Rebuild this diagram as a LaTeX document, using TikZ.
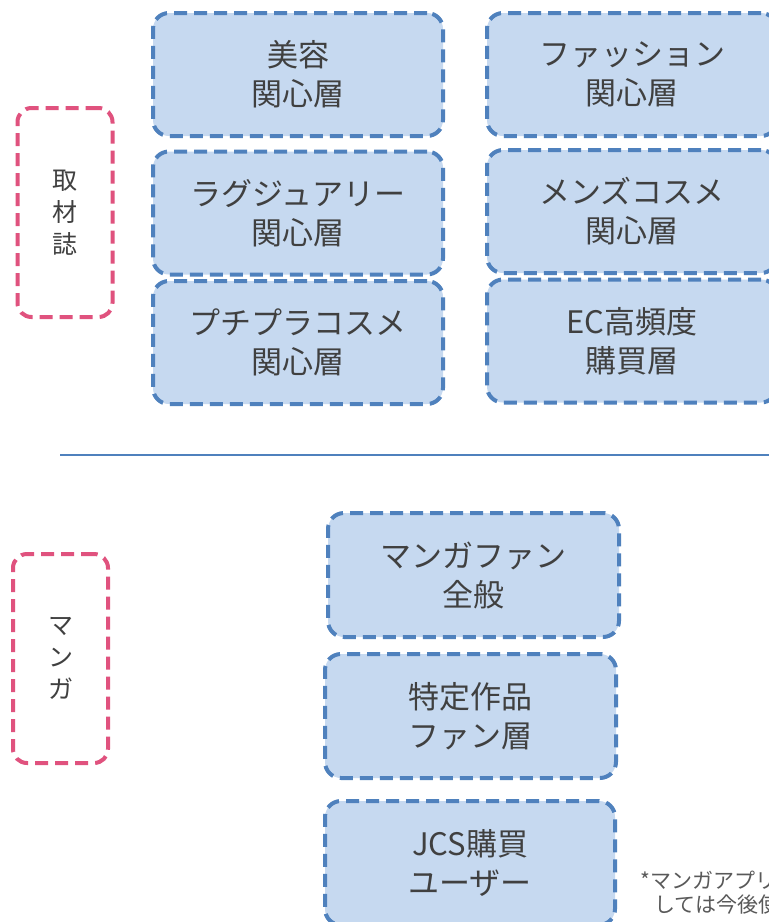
\documentclass[tikz,border=0pt]{standalone}
\usepackage{fontspec}
\setmainfont{Noto Sans CJK JP}
\newfontfamily\jpfont{Noto Sans CJK JP}
\definecolor{boxblue}{HTML}{4F81BD}
\definecolor{boxfill}{HTML}{C6D9F0}
\definecolor{pinkline}{HTML}{E0527E}
\definecolor{txtgray}{HTML}{404040}
\definecolor{notegray}{HTML}{595959}
\begin{document}
\begin{tikzpicture}[x=1pt,y=-1pt,
  segbox/.style={draw=boxblue, fill=boxfill, line width=4pt, dash pattern=on 13pt off 7pt,
    rounded corners=16pt, minimum width=290pt, minimum height=123pt, inner sep=0pt,
    align=center, text=txtgray, font=\jpfont\fontsize{31}{39}\selectfont},
  catbox/.style={draw=pinkline, line width=4pt, dash pattern=on 13pt off 7pt,
    rounded corners=14pt, minimum width=95pt, minimum height=209pt, inner sep=0pt,
    align=center, text=txtgray, font=\jpfont\fontsize{25}{32}\selectfont},
  notetext/.style={text=notegray, font=\jpfont\fontsize{21}{25}\selectfont, inner sep=0pt, align=left}
]
\clip (0,0) rectangle (769,922);
\fill[white] (0,0) rectangle (769,922);

% magazine category
\node[catbox] (mag) at (65,212.5) {取\\材\\誌};
\node[segbox] (b1) at (298,74.5) {美容\\関心層};
\node[segbox] (b2) at (298,213) {ラグジュアリー\\関心層};
\node[segbox] (b3) at (298,342.5) {プチプラコスメ\\関心層};
\node[segbox] (r1) at (632,74.5) {ファッション\\関心層};
\node[segbox] (r2) at (632,211.5) {メンズコスメ\\関心層};
\node[segbox] (r3) at (632,341) {EC高頻度\\購買層};

% divider
\coordinate (divL) at (60,455);
\coordinate (divR) at (775,455);
\draw[boxblue, line width=2pt] (divL) -- (divR);

% manga category
\node[catbox] (manga) at (60.5,658.5) {マ\\ン\\ガ};
\node[segbox, minimum width=291pt, minimum height=124pt] (m1) at (473.5,575) {マンガファン\\全般};
\node[segbox, minimum width=291pt, minimum height=124pt] (m2) at (470.5,716) {特定作品\\ファン層};
\node[segbox, minimum width=290pt, minimum height=124pt] (m3) at (470,863) {JCS購買\\ユーザー};

\node[notetext, anchor=west] (note1) at (640,880) {*マンガアプリ};
\node[notetext, anchor=west] (note2) at (654,905) {しては今後使};
\end{tikzpicture}
\end{document}
